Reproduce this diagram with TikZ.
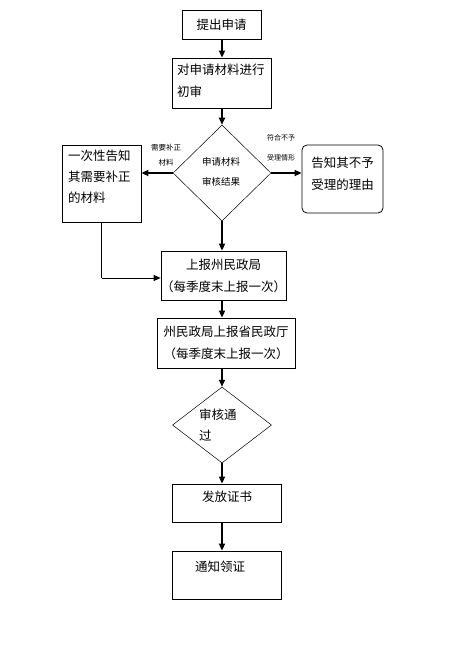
\documentclass[tikz,border=0pt]{standalone}
\usepackage{fontspec}
\setmainfont{Noto Sans CJK SC}
\usetikzlibrary{shapes.geometric,arrows.meta}
\begin{document}
\begin{tikzpicture}[x=1pt,y=-1pt,
  box/.style={draw,line width=0.8pt,inner sep=0pt,font=\fontsize{12.5}{22}\selectfont},
  dia/.style={draw,diamond,line width=0.5pt,inner sep=0pt,aspect=1},
  arr/.style={line width=1.6pt,-{Triangle[length=7pt,width=6pt]}},
  lab/.style={inner sep=0pt,align=center}]
\useasboundingbox (0,0) rectangle (464,647);
\fill[white] (0,0) rectangle (464,647);
% boxes
\node[box,minimum width=79pt,minimum height=29pt] (a) at (221.5,24.5) {提出申请};
\node[box,minimum width=99pt,minimum height=50pt] (b) at (221.5,83) {};
\node[lab,anchor=north west,align=left,font=\fontsize{12.5}{22}\selectfont] (bt) at (177,64) {对申请材料进行\\初审};
\node[dia,minimum width=98pt,minimum height=96pt] (d1) at (222,173) {};
\node[lab,font=\fontsize{9.5}{20}\selectfont] (d1t) at (221,172) {申请材料\\审核结果};
\node[box,minimum width=79pt,minimum height=77pt] (c) at (101.5,183.5) {};
\node[lab,anchor=north west,align=left,font=\fontsize{12.5}{21}\selectfont] (ct) at (68,150) {一次性告知\\其需要补正\\的材料};
\node[box,rounded corners=5pt,minimum width=81pt,minimum height=68pt] (e) at (342.5,179) {};
\node[lab,font=\fontsize{12.5}{22}\selectfont] (et) at (342.5,174) {告知其不予\\受理的理由};
\node[box,minimum width=123pt,minimum height=49pt,align=center] (f) at (223.5,275.5) {上报州民政局\\（每季度末上报一次）};
\node[box,minimum width=138pt,minimum height=50pt,align=center] (g) at (226,343) {州民政局上报省民政厅\\（每季度末上报一次）};
\node[dia,minimum width=99pt,minimum height=76pt] (d2) at (222,425) {};
\node[lab,anchor=north west,align=left,font=\fontsize{12.5}{21}\selectfont] (d2t) at (199,409) {审核通\\过};
\node[box,minimum width=109pt,minimum height=38pt] (h) at (226.5,503) {};
\node[lab,font=\fontsize{12.5}{15}\selectfont] (ht) at (227,497) {发放证书};
\node[box,minimum width=109pt,minimum height=48pt] (i) at (226.5,575) {};
\node[lab,anchor=west,font=\fontsize{12.5}{15}\selectfont] (it) at (195,567) {通知领证};
% labels
\node[lab,font=\fontsize{7.5}{15}\selectfont] (l1) at (166,155) {需要补正\\材料};
\node[lab,font=\fontsize{7}{20}\selectfont] (l2) at (281,148) {符合不予\\受理情形};
% connectors
\draw[arr] (a.south -| d1.north) -- (b.north -| d1.north);
\draw[arr] (b.south -| d1.north) -- (d1.north);
\draw[arr] (d1.west) -- (d1.west -| c.east);
\draw[arr] (d1.east) -- (d1.east -| e.west);
\draw[arr] (d1.south) -- (f.north -| d1.south);
\coordinate (cb) at (101.5,278);
\draw[line width=0.8pt] (c.south) -- (cb);
\draw[arr,line width=0.8pt] (cb) -- (f.west |- cb);
\draw[arr] (f.south -| d1.south) -- (g.north -| d1.south);
\draw[arr] (g.south -| d2.north) -- (d2.north);
\draw[arr] (d2.south) -- (h.north -| d2.south);
\draw[arr] (h.south -| d2.south) -- (i.north -| d2.south);
\end{tikzpicture}
\end{document}
